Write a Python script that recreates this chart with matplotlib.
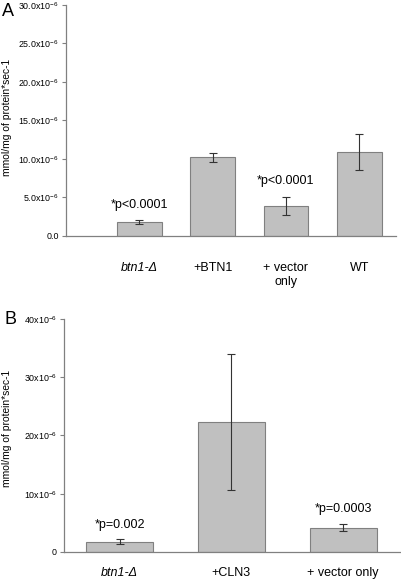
import numpy as np
import matplotlib
matplotlib.use("Agg")
import matplotlib.pyplot as plt

plt.rcParams['font.family'] = ['Liberation Sans', 'DejaVu Sans']

# panel A data (x1e-6 mmol/mg protein/sec)
a_labels = ["btn1-Δ", "+BTN1", "+ vector\nonly", "WT"]
a_vals = [1.8, 10.2, 3.9, 10.9]
a_err = [0.3, 0.6, 1.2, 2.3]
a_notes = ["*p<0.0001", "", "*p<0.0001", ""]
a_ticks = [0, 5, 10, 15, 20, 25, 30]

# panel B data
b_labels = ["btn1-Δ", "+CLN3", "+ vector only"]
b_vals = [1.8, 22.3, 4.2]
b_err = [0.35, 11.7, 0.6]
b_notes = ["*p=0.002", "", "*p=0.0003"]
b_ticks = [0, 10, 20, 30, 40]

bar_c = '#c0c0c0'
edge_c = '#808080'

fig = plt.figure(figsize=(4.02, 5.84), dpi=100)
axA = fig.add_axes([0.164, 0.596, 0.821, 0.3955])
axB = fig.add_axes([0.159, 0.0548, 0.836, 0.399])


def style(ax, ylim, ticks, fmt, pad, labels):
    x = np.arange(len(labels))
    ax.set_ylim(0, ylim)
    ax.set_yticks(ticks)
    ax.set_yticklabels([fmt(t) for t in ticks], fontsize=6.4)
    ax.set_xticks(x)
    ax.set_xticklabels(labels, fontsize=9, va='top')
    ax.get_xticklabels()[0].set_style('italic')
    ax.tick_params(axis='x', length=0, pad=pad)
    ax.tick_params(axis='y', length=3, width=0.8, color=edge_c, pad=2)
    for s in ['top', 'right']:
        ax.spines[s].set_visible(False)
    for s in ['left', 'bottom']:
        ax.spines[s].set_color(edge_c)
        ax.spines[s].set_linewidth(0.9)
    ax.set_ylabel("mmol/mg of protein*sec-1", fontsize=7.4)


# panel A
xa = np.arange(len(a_labels))
axA.bar(xa, a_vals, width=0.61, color=bar_c, edgecolor=edge_c, linewidth=0.8,
        yerr=a_err, error_kw=dict(ecolor='#333333', elinewidth=0.8, capsize=3, capthick=0.8))
for i, t in enumerate(a_notes):
    if t:
        axA.text(xa[i], a_vals[i] + a_err[i] + 1.2, t, ha='center', va='bottom', fontsize=9)
axA.set_xlim(-1.0, 3.5)
style(axA, 30, a_ticks, lambda t: r'%.1fx10$^{\mathregular{-6}}$' % t if t else '0.0', 19, a_labels)
axA.yaxis.set_label_coords(-0.162, 0.515)
fig.text(0.005, 0.995, "A", fontsize=13, va='top', ha='left')

# panel B
xb = np.arange(len(b_labels))
axB.bar(xb, b_vals, width=0.6, color=bar_c, edgecolor=edge_c, linewidth=0.8,
        yerr=b_err, error_kw=dict(ecolor='#333333', elinewidth=0.8, capsize=3, capthick=0.8))
for i, t in enumerate(b_notes):
    if t:
        axB.text(xb[i], b_vals[i] + b_err[i] + 1.5, t, ha='center', va='bottom', fontsize=9)
axB.set_xlim(-0.5, 2.51)
style(axB, 40, b_ticks, lambda t: r'%dx10$^{\mathregular{-6}}$' % t if t else '0', 11, b_labels)
axB.yaxis.set_label_coords(-0.153, 0.53)
fig.text(0.01, 0.468, "B", fontsize=13, va='top', ha='left')

fig.savefig("out.png", dpi=100)
